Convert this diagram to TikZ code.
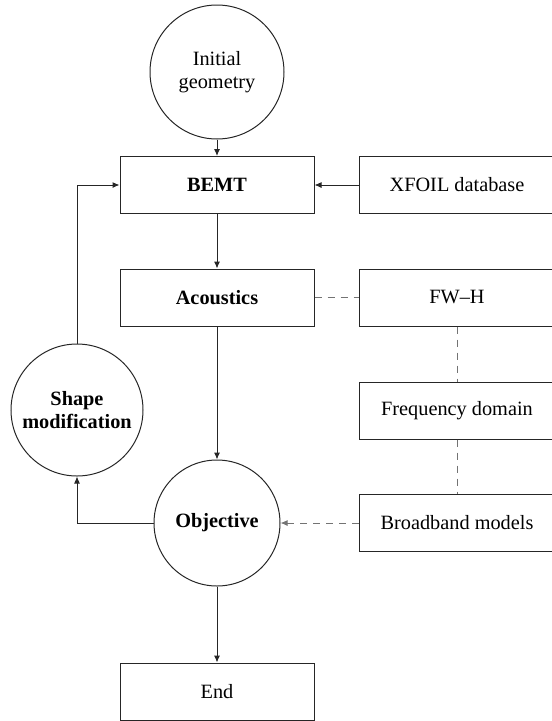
\documentclass[tikz,border=0pt]{standalone}
\usepackage{fontspec}
\setmainfont{Liberation Serif}
\usetikzlibrary{arrows.meta,positioning}
\begin{document}
\begin{tikzpicture}[x=1pt,y=-1pt,
  every node/.style={font=\fontsize{20.3}{24}\selectfont},
  box/.style={draw=black!85,line width=1pt,rectangle,minimum width=194pt,minimum height=57pt,inner sep=0pt,align=center},
  rbox/.style={box,minimum width=196pt},
  circ/.style={draw=black!85,line width=1pt,circle,inner sep=0pt,align=center},
  conn/.style={draw=black!85,line width=1pt,-{Latex[length=7pt,width=6pt]}},
  dconn/.style={draw=black!55,line width=1pt,dash pattern=on 7pt off 6pt},
  dtip/.style={dconn,-{Latex[length=7pt,width=6pt]}}]
\useasboundingbox (0,0) rectangle (552,721);
\clip (0,0) rectangle (552,721);
\node[circ,minimum size=134pt] (init) at (217,72) {Initial\\[-1pt]geometry};
\node[box] (bemt) at (217,185) {\textbf{BEMT}};
\node[rbox] (xfoil) at (457,185) {XFOIL database};
\node[box] (acou) at (217,297.5) {\textbf{Acoustics}};
\node[rbox] (fwh) at (457,297.5) {FW--H};
\node[rbox] (freq) at (457,410.5) {Frequency domain};
\node[rbox] (broad) at (457,523) {Broadband models};
\node[circ,minimum size=126pt] (obj) at (217,523) {\textbf{Objective}};
\node[circ,minimum size=132pt] (shape) at (77,410) {\textbf{Shape}\\[-1pt]\textbf{modification}};
\node[box] (end) at (217,691.5) {End};
\draw[conn] (init) -- (bemt);
\draw[conn] (xfoil) -- (bemt);
\draw[conn] (bemt) -- (acou);
\draw[conn] (acou) -- (obj);
\draw[conn] (obj) -- (end);
\draw[conn] (obj.west) -| (shape.south);
\draw[conn] (shape.north) |- (bemt.west);
\draw[dconn] (acou) -- (fwh);
\draw[dconn] (fwh) -- (freq);
\draw[dconn] (freq) -- (broad);
\draw[dtip] (broad) -- (obj);
\end{tikzpicture}
\end{document}
